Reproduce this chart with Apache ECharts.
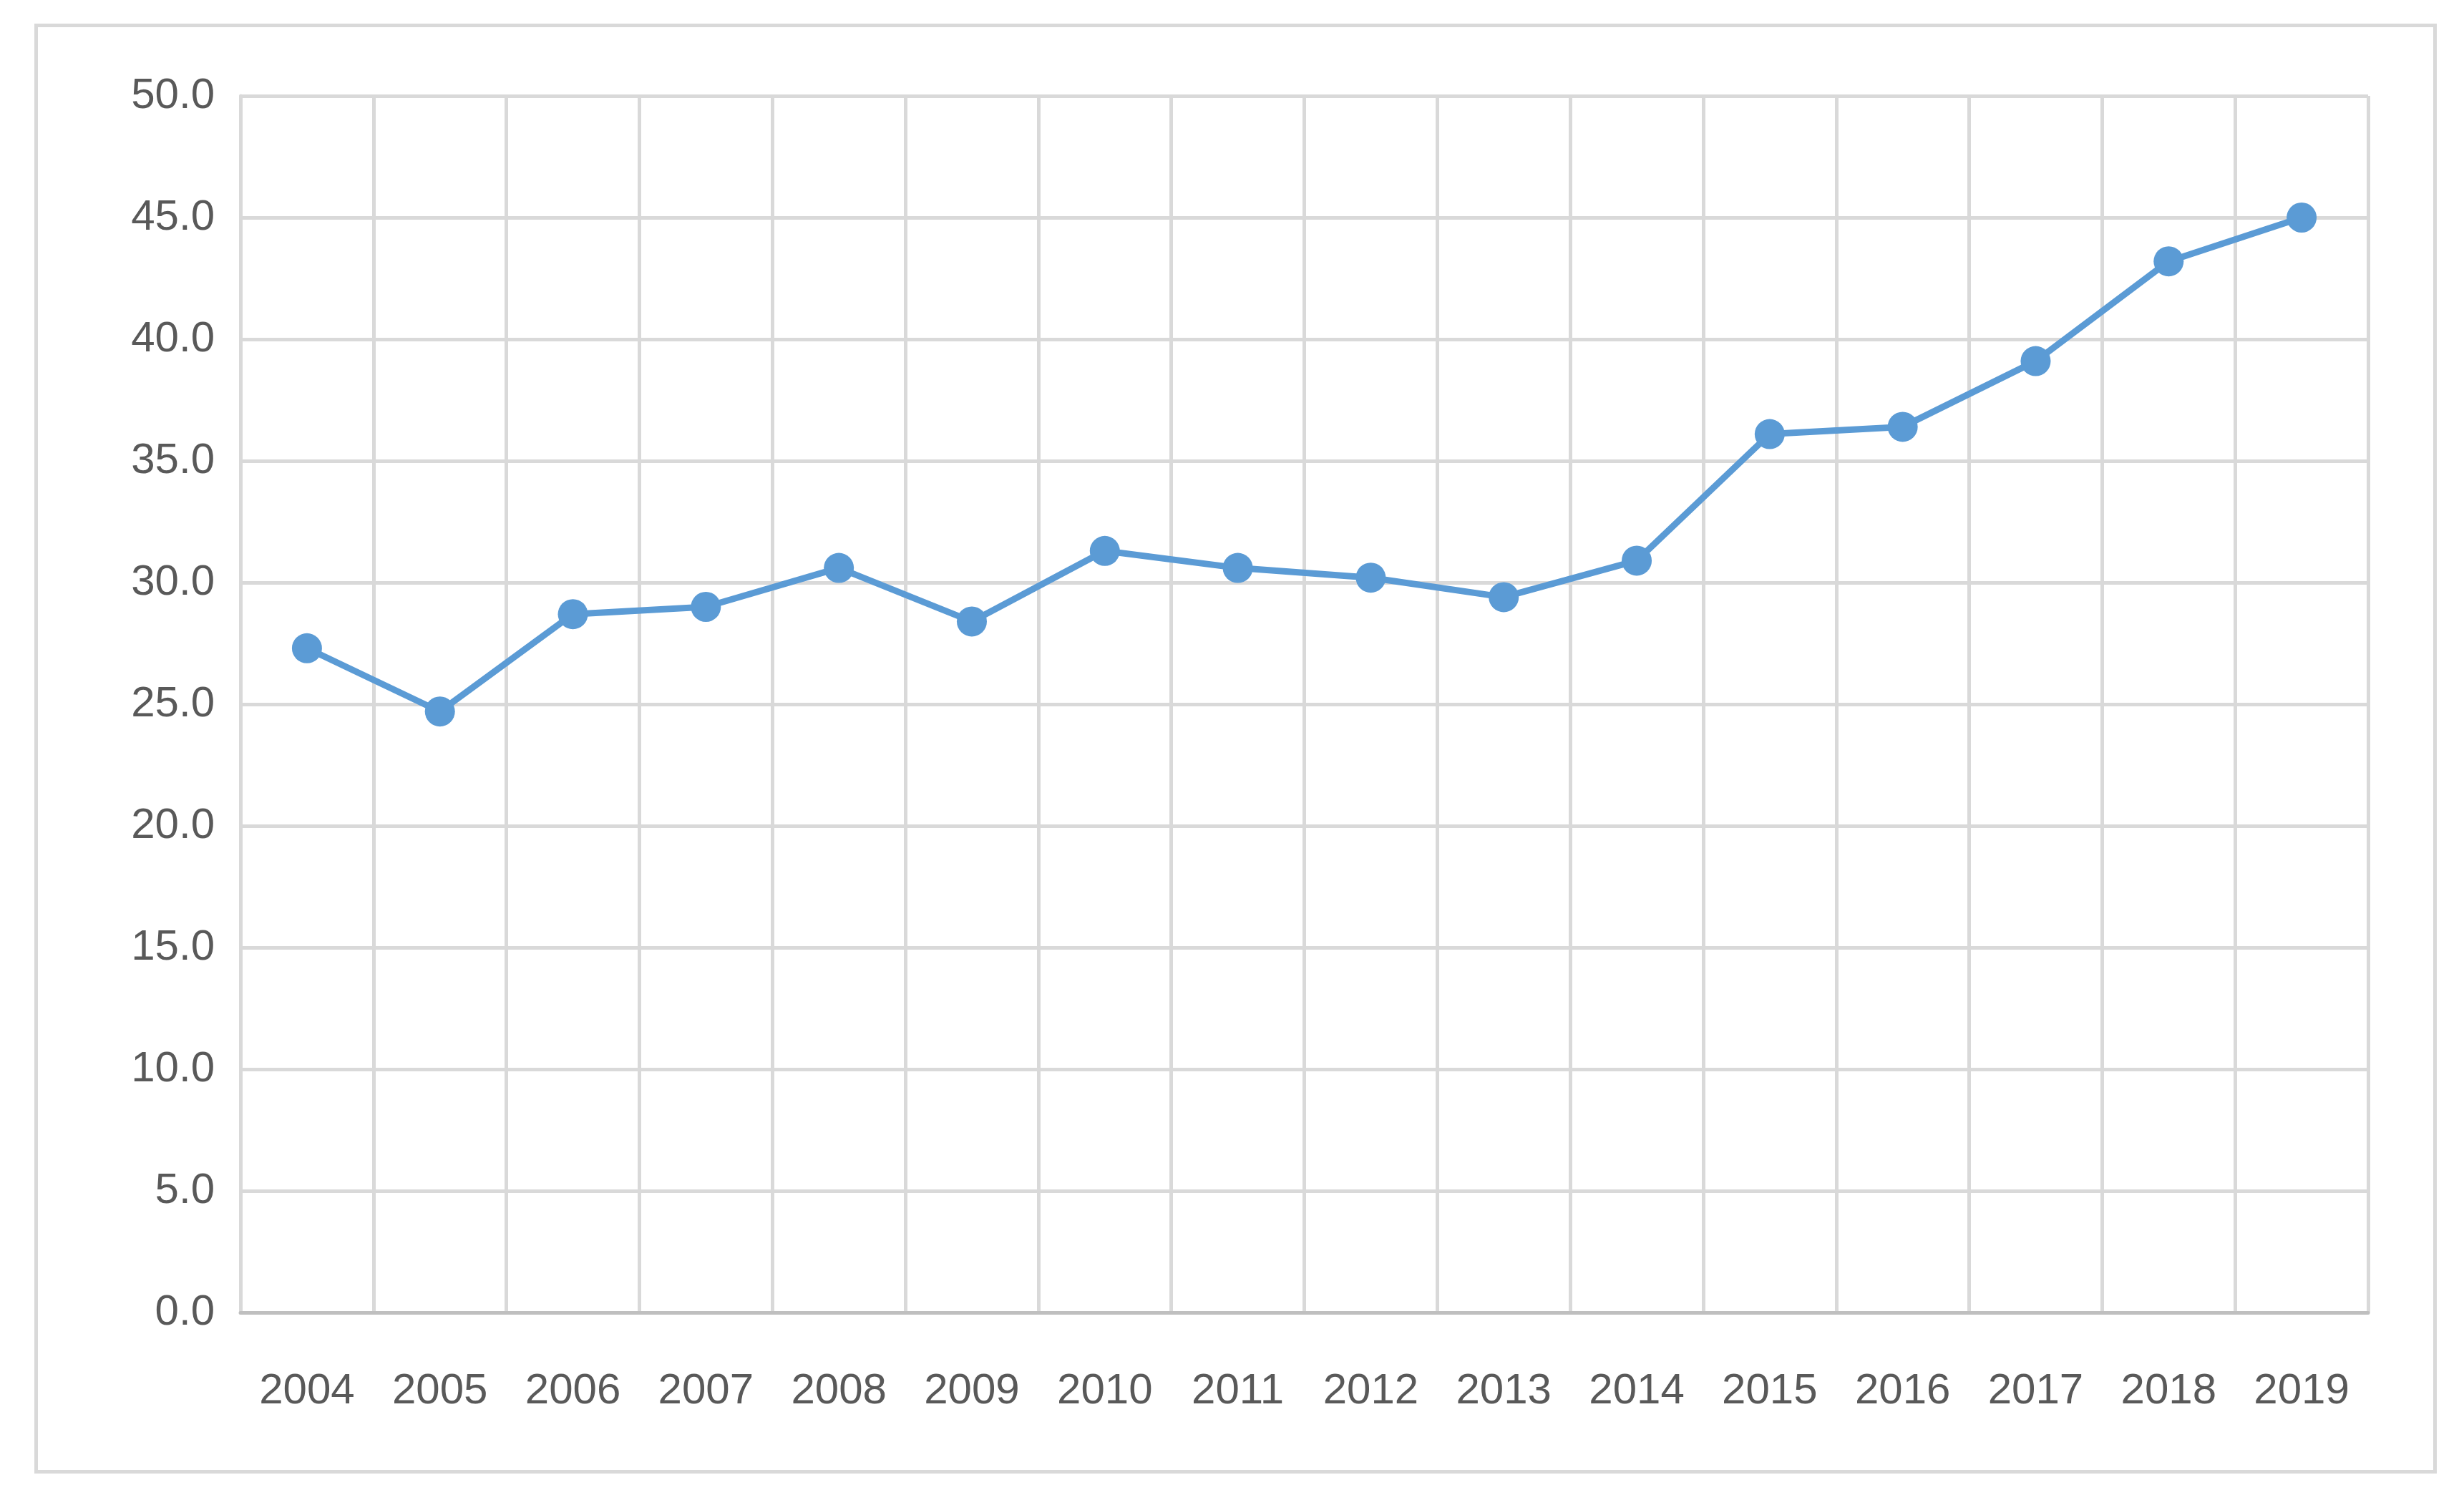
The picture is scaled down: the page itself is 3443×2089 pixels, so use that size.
<!DOCTYPE html>
<html>
<head>
<meta charset="utf-8">
<script src="https://cdn.jsdelivr.net/npm/echarts@6/dist/echarts.min.js"></script>
<style>
html, body { margin: 0; padding: 0; background: #fff; }
#box { position: absolute; left: 48px; top: 33px; width: 3347px; height: 2016px; border: 5px solid #d9d9d9; }
#chart { position: absolute; left: 0; top: 0; width: 3443px; height: 2089px; }
</style>
</head>
<body>
<div id="box"></div>
<div id="chart"></div>
<script>
var years = ['2004', '2005', '2006', '2007', '2008', '2009', '2010', '2011',
    '2012', '2013', '2014', '2015', '2016', '2017', '2018', '2019'];
var values = [27.3, 24.7, 28.7, 29.0, 30.6, 28.4, 31.3, 30.6,
    30.2, 29.4, 30.9, 36.1, 36.4, 39.1, 43.2, 45.0];

var myChart = echarts.init(document.getElementById('chart'));
var option = {
    animation: false,
    grid: { left: 336, right: 134, top: 134, bottom: 255 },
    xAxis: {
        type: 'category',
        data: years,
        boundaryGap: true,
        axisLine: { lineStyle: { color: '#bfbfbf', width: 5 } },
        axisTick: { show: false },
        splitLine: { show: true, lineStyle: { color: '#d9d9d9', width: 5 } },
        axisLabel: { color: '#595959', fontSize: 60, fontFamily: 'Liberation Sans', margin: 80, interval: 0 }
    },
    yAxis: {
        type: 'value',
        min: 0, max: 50, interval: 5,
        axisLine: { show: true, lineStyle: { color: '#d9d9d9', width: 5 } },
        axisTick: { show: false },
        splitLine: { lineStyle: { color: '#d9d9d9', width: 5 } },
        axisLabel: {
            color: '#595959', fontSize: 60, fontFamily: 'Liberation Sans', margin: 36,
            formatter: function (v) { return v.toFixed(1); }
        }
    },
    series: [{
        type: 'line',
        data: values,
        symbol: 'circle',
        symbolSize: 42,
        lineStyle: { color: '#5b9bd5', width: 9 },
        itemStyle: { color: '#5b9bd5' }
    }]
};
myChart.setOption(option);
</script>
</body>
</html>
